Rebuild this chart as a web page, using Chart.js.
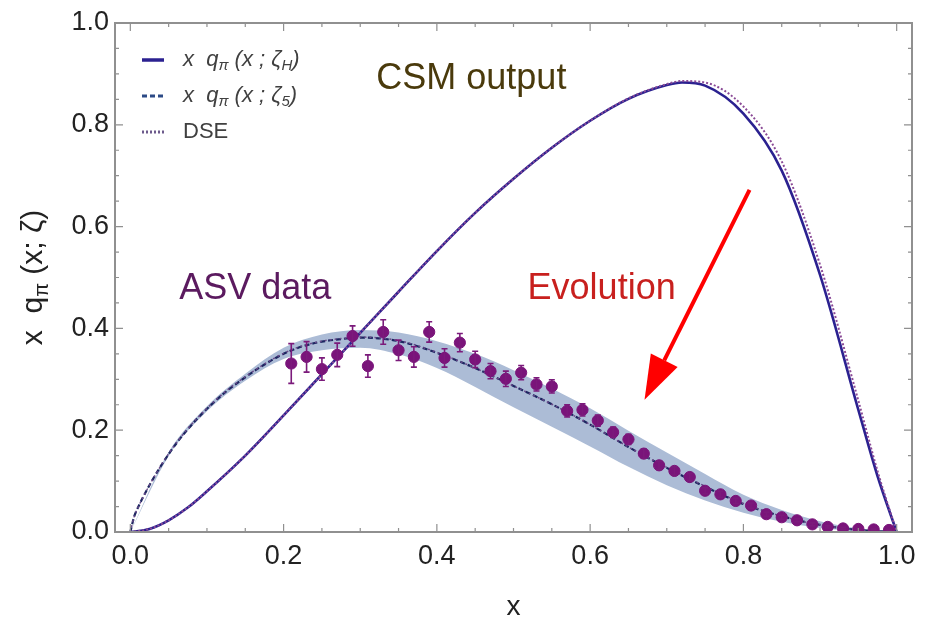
<!DOCTYPE html>
<html><head><meta charset="utf-8">
<script src="https://cdn.jsdelivr.net/npm/chart.js@4/dist/chart.umd.min.js"></script>
<style>html,body{margin:0;padding:0;background:#fff}#wrap{width:934px;height:622px;position:relative}</style>
</head><body><div id="wrap"><canvas id="c" width="934" height="622"></canvas></div>
<script>
// ---- tick values ----
const xTicks = [0, 0.2, 0.4, 0.6, 0.8, 1.0];
const yTicks = [0, 0.2, 0.4, 0.6, 0.8, 1.0];
const minorStep = 0.05;

// ---- ASV data (points with error bars) ----
const asvX = [0.21,0.23,0.25,0.27,0.29,0.31,0.33,0.35,0.37,0.39,0.41,0.43,0.45,0.47,0.49,0.51,0.53,0.55,0.57,0.59,0.61,0.63,0.65,0.67,0.69,0.71,0.73,0.75,0.77,0.79,0.81,0.83,0.85,0.87,0.89,0.91,0.93,0.95,0.97,0.99];
const asvY = [0.331,0.344,0.320,0.348,0.385,0.326,0.393,0.357,0.344,0.393,0.342,0.372,0.339,0.316,0.301,0.313,0.290,0.286,0.238,0.240,0.219,0.196,0.182,0.154,0.131,0.120,0.108,0.081,0.074,0.061,0.052,0.035,0.029,0.023,0.015,0.010,0.007,0.006,0.005,0.004];
const asvErr = [0.039,0.030,0.022,0.023,0.020,0.022,0.024,0.020,0.020,0.020,0.018,0.018,0.016,0.015,0.015,0.014,0.013,0.013,0.012,0.012,0.011,0.010,0.010,0.009,0.008,0.008,0.007,0.006,0.006,0.005,0.005,0.004,0.004,0.003,0.003,0.002,0.002,0.002,0.001,0.001];

// ---- CSM output at hadronic scale (solid) and DSE (dotted) ----
const csmHX = [0,0.025,0.05,0.075,0.1,0.15,0.2,0.25,0.3,0.35,0.4,0.45,0.5,0.55,0.6,0.65,0.7,0.72,0.75,0.8,0.85,0.9,0.95,0.975,1];
const csmHY = [0,0.006,0.023,0.048,0.080,0.150,0.229,0.310,0.391,0.472,0.552,0.627,0.694,0.755,0.808,0.851,0.878,0.883,0.877,0.822,0.710,0.505,0.240,0.110,0];
const dseHY = [0,0.006,0.023,0.048,0.080,0.150,0.229,0.310,0.391,0.472,0.552,0.627,0.694,0.755,0.808,0.852,0.880,0.886,0.883,0.836,0.728,0.525,0.258,0.120,0];

// ---- evolved to zeta_5 (dashed) and DSE (dotted) ----
const evo5X = [0,0.005,0.01,0.025,0.05,0.075,0.1,0.125,0.15,0.175,0.2,0.225,0.25,0.275,0.3,0.35,0.4,0.45,0.5,0.55,0.6,0.65,0.7,0.75,0.8,0.85,0.9,0.95,1];
const evo5Y = [0,0.030,0.048,0.092,0.153,0.202,0.242,0.276,0.304,0.329,0.350,0.365,0.374,0.379,0.382,0.375,0.352,0.322,0.287,0.251,0.211,0.167,0.126,0.089,0.055,0.031,0.014,0.004,0];
const dse5Y = [0,0.030,0.048,0.092,0.154,0.203,0.243,0.277,0.305,0.330,0.351,0.366,0.375,0.380,0.383,0.376,0.353,0.322,0.287,0.251,0.211,0.167,0.127,0.090,0.056,0.031,0.014,0.004,0];

// ---- uncertainty band ----
const bandX = [0,0.05,0.1,0.15,0.2,0.25,0.3,0.35,0.4,0.45,0.5,0.55,0.6,0.65,0.7,0.75,0.8,0.85,0.9,0.95,1];
const bandUpper = [0,0.157,0.247,0.311,0.362,0.388,0.397,0.392,0.375,0.350,0.318,0.282,0.243,0.199,0.156,0.114,0.073,0.043,0.021,0.007,0];
const bandLower = [0,0.149,0.237,0.297,0.340,0.357,0.362,0.349,0.322,0.285,0.245,0.207,0.168,0.128,0.092,0.062,0.038,0.020,0.008,0.002,0];

// ---- texts ----
const legendLabels = ['x  q_{π} (x ; ζ_{H})', 'x  q_{π} (x ; ζ_{5})', 'DSE'];
const yTitle = 'x  q_{π} (x; ζ)';
const xTitle = 'x';
const noteTexts = ['CSM output', 'ASV data', 'Evolution'];

const pts = (xs, ys) => xs.map((x, i) => ({x, y: ys[i]}));

const notes = [
  {text: noteTexts[0], at: [0.445, 0.889], color: '#4a3a0c'},
  {text: noteTexts[1], at: [0.163, 0.478], color: '#5b1a5f'},
  {text: noteTexts[2], at: [0.615, 0.477], color: '#c8201e'}
];
const arrow = {from: [0.808, 0.672], to: [0.671, 0.260], color: '#ff0000'};

function drawRich(ctx, str, x, y, size, italic, color, align) {
  const parts = str.split(/(_\{[^}]*\})/).filter(s => s.length);
  const segs = parts.map(p => p.startsWith('_{') ? {t: p.slice(2, -1), sub: true} : {t: p, sub: false});
  const fBase = (italic ? 'italic ' : '') + size + 'px "Liberation Sans", Arial, sans-serif';
  const fSub = (italic ? 'italic ' : '') + Math.round(size * 0.68) + 'px "Liberation Sans", Arial, sans-serif';
  let w = 0;
  segs.forEach(s => { ctx.font = s.sub ? fSub : fBase; s.w = ctx.measureText(s.t).width; w += s.w; });
  let cx = align === 'center' ? x - w / 2 : x;
  ctx.fillStyle = color;
  ctx.textBaseline = 'middle';
  ctx.textAlign = 'left';
  segs.forEach(s => {
    ctx.font = s.sub ? fSub : fBase;
    ctx.fillText(s.t, cx, s.sub ? y + size * 0.28 : y);
    cx += s.w;
  });
}

const decor = {
  id: 'decor',
  afterDatasetsDraw(chart) {
    const {ctx, scales: {x, y}} = chart;
    ctx.save();
    ctx.strokeStyle = '#7b1a7b';
    ctx.lineWidth = 1.6;
    asvX.forEach((xv, i) => {
      const px = x.getPixelForValue(xv);
      const p1 = y.getPixelForValue(asvY[i] + asvErr[i]);
      const p2 = y.getPixelForValue(asvY[i] - asvErr[i]);
      ctx.beginPath();
      ctx.moveTo(px, p1); ctx.lineTo(px, p2);
      ctx.moveTo(px - 3, p1); ctx.lineTo(px + 3, p1);
      ctx.moveTo(px - 3, p2); ctx.lineTo(px + 3, p2);
      ctx.stroke();
    });
    ctx.restore();
  },
  afterDraw(chart) {
    const {ctx, chartArea: ca, scales: {x, y}} = chart;
    ctx.save();
    ctx.strokeStyle = '#909090';
    ctx.lineWidth = 2;
    ctx.strokeRect(ca.left, ca.top, ca.right - ca.left, ca.bottom - ca.top);
    ctx.lineWidth = 1.2;
    for (let v = 0; v <= 1.0001; v += minorStep) {
      const major = Math.abs(v * 5 - Math.round(v * 5)) < 1e-6;
      const L = major ? 8 : 4;
      const px = x.getPixelForValue(v);
      const py = y.getPixelForValue(v);
      ctx.beginPath();
      ctx.moveTo(px, ca.bottom); ctx.lineTo(px, ca.bottom - L);
      ctx.moveTo(px, ca.top); ctx.lineTo(px, ca.top + L);
      ctx.moveTo(ca.left, py); ctx.lineTo(ca.left + L, py);
      ctx.moveTo(ca.right, py); ctx.lineTo(ca.right - L, py);
      ctx.stroke();
    }
    // legend
    const ds = chart.data.datasets;
    const legendSets = [ds[1], ds[3], ds[2]];
    const legendColors = ['#2b2190', '#2c4a86', '#6c5a8c'];
    legendSets.forEach((d, i) => {
      const ry = ca.top + 37 + i * 36;
      ctx.save();
      ctx.strokeStyle = legendColors[i];
      ctx.lineWidth = i === 0 ? 3.5 : 3;
      ctx.setLineDash(i === 1 ? [5, 3] : (d.borderDash || []));
      ctx.beginPath();
      ctx.moveTo(ca.left + 27, ry); ctx.lineTo(ca.left + 49, ry);
      ctx.stroke();
      ctx.restore();
      drawRich(ctx, legendLabels[i], ca.left + 68, ry, 22, i < 2, '#404040', 'left');
    });
    // notes
    notes.forEach(n => {
      ctx.font = '36px "Liberation Sans", Arial, sans-serif';
      ctx.fillStyle = n.color;
      ctx.textAlign = 'center';
      ctx.textBaseline = 'middle';
      ctx.fillText(n.text, x.getPixelForValue(n.at[0]), y.getPixelForValue(n.at[1]));
    });
    // arrow
    const ax1 = x.getPixelForValue(arrow.from[0]), ay1 = y.getPixelForValue(arrow.from[1]);
    const ax2 = x.getPixelForValue(arrow.to[0]), ay2 = y.getPixelForValue(arrow.to[1]);
    const ang = Math.atan2(ay2 - ay1, ax2 - ax1);
    const hl = 44, hw = 15;
    const bx = ax2 - hl * Math.cos(ang), by = ay2 - hl * Math.sin(ang);
    ctx.strokeStyle = arrow.color; ctx.fillStyle = arrow.color;
    ctx.lineWidth = 4;
    ctx.beginPath(); ctx.moveTo(ax1, ay1); ctx.lineTo(bx, by); ctx.stroke();
    ctx.beginPath();
    ctx.moveTo(ax2, ay2);
    ctx.lineTo(bx + hw * Math.sin(ang), by - hw * Math.cos(ang));
    ctx.lineTo(bx - hw * Math.sin(ang), by + hw * Math.cos(ang));
    ctx.closePath(); ctx.fill();
    // axis titles
    ctx.save();
    ctx.translate(34, (ca.top + ca.bottom) / 2);
    ctx.rotate(-Math.PI / 2);
    drawRich(ctx, yTitle, 0, 0, 30, false, '#222', 'center');
    ctx.restore();
    ctx.font = '28px "Liberation Sans", Arial, sans-serif';
    ctx.fillStyle = '#222'; ctx.textAlign = 'center'; ctx.textBaseline = 'middle';
    ctx.fillText(xTitle, (ca.left + ca.right) / 2, 607);
    ctx.restore();
  }
};

const lineBase = {type: 'line', showLine: true, pointRadius: 0, fill: false, cubicInterpolationMode: 'monotone'};

new Chart(document.getElementById('c'), {
  type: 'scatter',
  data: {
    datasets: [
      {label: 'ASV data', data: pts(asvX, asvY), pointRadius: 5.6, pointBackgroundColor: '#7a147a', pointBorderColor: '#7a147a', showLine: false, order: 0},
      Object.assign({}, lineBase, {label: legendLabels[0], data: pts(csmHX, csmHY), borderColor: '#2b2190', borderWidth: 2.6, order: 2}),
      Object.assign({}, lineBase, {label: legendLabels[2], data: pts(csmHX, dseHY), borderColor: '#8a4a96', borderWidth: 2, borderDash: [2, 2], order: 1}),
      Object.assign({}, lineBase, {label: legendLabels[1], data: pts(evo5X, evo5Y), borderColor: '#1c2660', borderWidth: 2.2, borderDash: [5, 3], order: 4}),
      Object.assign({}, lineBase, {label: 'DSE ζ5', data: pts(evo5X, dse5Y), borderColor: '#6a4a8a', borderWidth: 1.5, borderDash: [2, 3], order: 3}),
      Object.assign({}, lineBase, {label: 'band upper', data: pts(bandX, bandUpper), borderWidth: 0, borderColor: 'rgba(0,0,0,0)', fill: '+1', backgroundColor: 'rgb(172,188,214)', order: 10}),
      Object.assign({}, lineBase, {label: 'band lower', data: pts(bandX, bandLower), borderWidth: 0, borderColor: 'rgba(0,0,0,0)', order: 11})
    ]
  },
  options: {
    responsive: false,
    animation: false,
    layout: {padding: {top: 23, right: 22, left: 0, bottom: 0}},
    plugins: {legend: {display: false}, tooltip: {enabled: false}, title: {display: false}},
    scales: {
      x: {
        type: 'linear', min: -0.02, max: 1.02,
        afterBuildTicks: s => { s.ticks = xTicks.map(v => ({value: v})); },
        afterFit: s => { s.height = 90; },
        grid: {display: false, drawTicks: false}, border: {display: false},
        ticks: {padding: 8, color: '#222', font: {size: 27, family: '"Liberation Sans", Arial, sans-serif'}, callback: v => v.toFixed(1), maxRotation: 0, autoSkip: false}
      },
      y: {
        type: 'linear', min: 0, max: 1,
        afterBuildTicks: s => { s.ticks = yTicks.map(v => ({value: v})); },
        afterFit: s => { s.width = 115; },
        grid: {display: false, drawTicks: false}, border: {display: false},
        ticks: {padding: 6, color: '#222', font: {size: 27, family: '"Liberation Sans", Arial, sans-serif'}, callback: v => v.toFixed(1), autoSkip: false}
      }
    }
  },
  plugins: [decor]
});
</script></body></html>
